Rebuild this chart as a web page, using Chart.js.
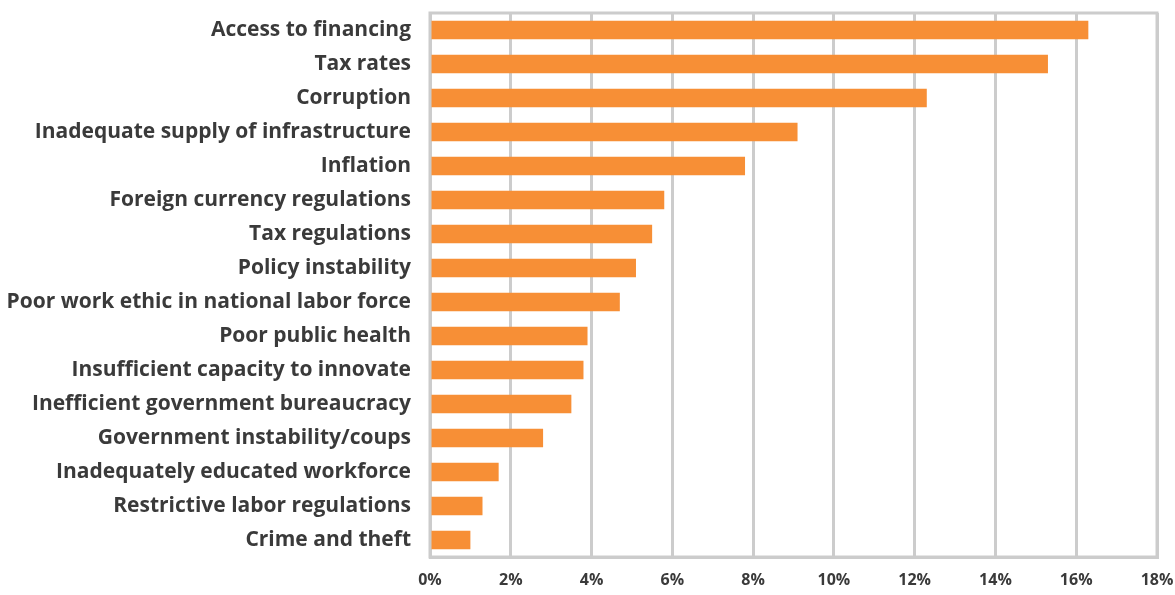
<!DOCTYPE html>
<html>
<head>
<meta charset="utf-8">
<script src="https://cdn.jsdelivr.net/npm/chart.js@4.4.1/dist/chart.umd.min.js"></script>
<style>
  html, body { margin: 0; padding: 0; background: #fff; }
  #wrap { width: 1175px; height: 595px; position: relative; }
</style>
</head>
<body>
<div id="wrap"><canvas id="obstacles"></canvas></div>
<script>
// Most problematic factors for doing business (% of responses)
const categories = [
  'Access to financing',
  'Tax rates',
  'Corruption',
  'Inadequate supply of infrastructure',
  'Inflation',
  'Foreign currency regulations',
  'Tax regulations',
  'Policy instability',
  'Poor work ethic in national labor force',
  'Poor public health',
  'Insufficient capacity to innovate',
  'Inefficient government bureaucracy',
  'Government instability/coups',
  'Inadequately educated workforce',
  'Restrictive labor regulations',
  'Crime and theft'
];
const shares = [16.3, 15.3, 12.3, 9.1, 7.8, 5.8, 5.5, 5.1, 4.7, 3.9, 3.8, 3.5, 2.8, 1.7, 1.3, 1.0];
const xTicks = [0, 2, 4, 6, 8, 10, 12, 14, 16, 18];

const textColor = '#3a3a3a';
const gridColor = '#cccccc';
const fontFamily = '"Open Sans", Lato, sans-serif';

// draws the gray frame around the plot area (top + right edges)
const frame = {
  id: 'frame',
  beforeDatasetsDraw(chart) {
    const { ctx, chartArea: a } = chart;
    ctx.save();
    ctx.strokeStyle = gridColor;
    ctx.lineWidth = 3;
    ctx.strokeRect(a.left, a.top, a.right - a.left, a.bottom - a.top);
    ctx.restore();
  }
};

new Chart(document.getElementById('obstacles'), {
  type: 'bar',
  data: {
    labels: categories,
    datasets: [{
      data: shares,
      backgroundColor: '#f78f36',
      barPercentage: 0.9,
      categoryPercentage: 0.6
    }]
  },
  plugins: [frame],
  options: {
    indexAxis: 'y',
    responsive: true,
    maintainAspectRatio: false,
    animation: false,
    layout: { padding: { top: 13, right: 18, bottom: 0, left: 0 } },
    plugins: {
      legend: { display: false },
      tooltip: { enabled: false }
    },
    scales: {
      x: {
        min: 0,
        max: 18,
        afterBuildTicks: (axis) => { axis.ticks = xTicks.map(v => ({ value: v })); },
        afterFit: (axis) => {
          axis.height = 38;
          axis.paddingLeft = 0;
          axis.paddingRight = 0;
        },
        grid: { color: gridColor, lineWidth: 3, drawTicks: false },
        border: { display: true, color: gridColor, width: 3 },
        ticks: {
          padding: 14,
          color: textColor,
          font: { family: fontFamily, size: 16, weight: 'bold' },
          callback: (v) => v + '%'
        }
      },
      y: {
        afterFit: (axis) => {
          axis.width = 430;
          axis.paddingTop = 0;
          axis.paddingBottom = 0;
        },
        grid: { display: false, drawTicks: false },
        border: { display: true, color: gridColor, width: 3 },
        ticks: {
          padding: 19,
          color: textColor,
          autoSkip: false,
          font: { family: fontFamily, size: 21, weight: 'bold' }
        }
      }
    }
  }
});
</script>
</body>
</html>
